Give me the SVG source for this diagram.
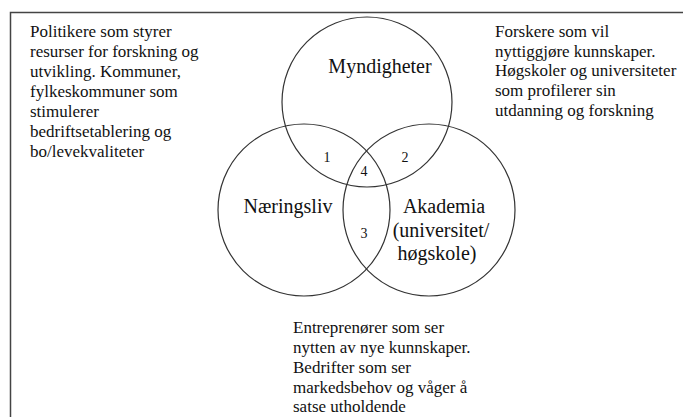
<svg xmlns="http://www.w3.org/2000/svg" width="683" height="417" viewBox="0 0 683 417">
  <rect width="683" height="417" fill="#fff"/>
  <!-- outer frame: only top and left edges fall inside the page -->
  <path d="M10.5,417 V12.5 H683" fill="none" stroke="#444" stroke-width="1.5"/>

  <!-- the three sectors; shared ring and label looks set on this group -->
  <g fill="none" stroke="#333" stroke-width="1.2">
    <circle id="ring-myndigheter" cx="367" cy="102" r="85"/>
    <circle id="ring-naeringsliv" cx="304" cy="210" r="86"/>
    <circle id="ring-akademia" cx="429" cy="210" r="86"/>
  </g>

  <g font-family="Liberation Serif" fill="#111" font-size="20" text-anchor="middle">
    <g id="myndigheter">
      <text x="380" y="73">Myndigheter</text>
    </g>
    <g id="naeringsliv">
      <text x="288" y="213">Næringsliv</text>
    </g>
    <g id="akademia">
      <text x="444" y="213">Akademia</text>
      <text x="441" y="237">(universitet/</text>
      <text x="437" y="260">høgskole)</text>
    </g>
  </g>

  <g id="overlaps" font-family="Liberation Serif" fill="#111" font-size="14" text-anchor="middle">
    <text x="327" y="162">1</text>
    <text x="405" y="162">2</text>
    <text x="364" y="238">3</text>
    <text x="364" y="176">4</text>
  </g>

  <g font-family="Liberation Serif" fill="#111" font-size="17">
    <g id="note-politikere">
      <text x="30" y="37">Politikere som styrer</text>
      <text x="30" y="57">resurser for forskning og</text>
      <text x="30" y="77">utvikling. Kommuner,</text>
      <text x="30" y="97">fylkeskommuner som</text>
      <text x="30" y="117">stimulerer</text>
      <text x="30" y="137">bedriftsetablering og</text>
      <text x="30" y="157">bo/levekvaliteter</text>
    </g>
    <g id="note-forskere">
      <text x="495" y="37">Forskere som vil</text>
      <text x="495" y="57">nyttiggjøre kunnskaper.</text>
      <text x="495" y="76">Høgskoler og universiteter</text>
      <text x="495" y="96">som profilerer sin</text>
      <text x="495" y="116">utdanning og forskning</text>
    </g>
    <g id="note-entreprenorer">
      <text x="293" y="333">Entreprenører som ser</text>
      <text x="293" y="353">nytten av nye kunnskaper.</text>
      <text x="293" y="373">Bedrifter som ser</text>
      <text x="293" y="393">markedsbehov og våger å</text>
      <text x="293" y="412">satse utholdende</text>
    </g>
  </g>
</svg>
